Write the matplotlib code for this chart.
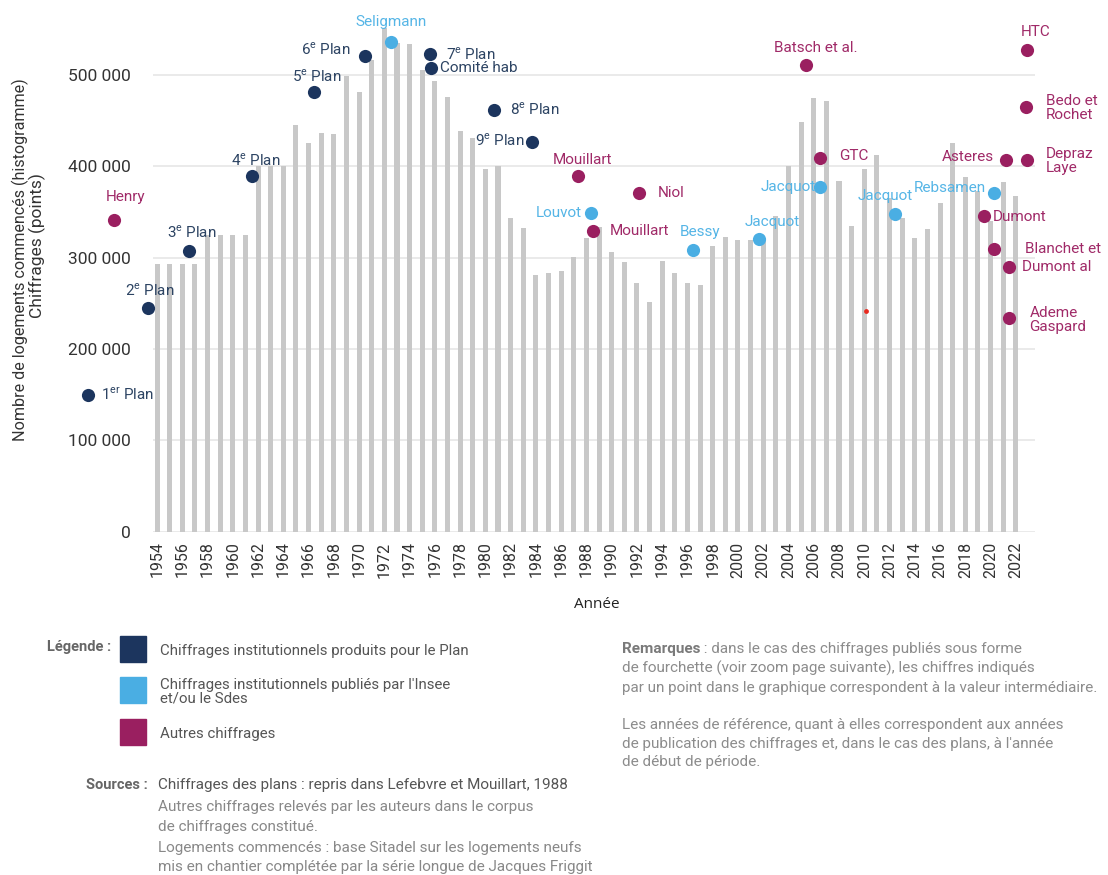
import numpy as np
import matplotlib
matplotlib.use("Agg")
import matplotlib.pyplot as plt
from matplotlib.patches import Rectangle

plt.rcParams['font.family'] = ['Roboto', 'DejaVu Sans']
plt.rcParams['mathtext.fontset'] = 'custom'
plt.rcParams['mathtext.rm'] = 'Roboto'

# logements commences (histogramme), 1954-2022
years = list(range(1954, 2023))
starts = [293000, 293000, 293000, 293000, 325000, 325000, 325000, 325000,
          400000, 400000, 400000, 445000, 426000, 437000, 435000, 499000,
          481000, 516000, 551000, 535000, 534000, 506000, 493000, 476000,
          439000, 431000, 397000, 400000, 343000, 332000, 281000, 283000,
          285000, 301000, 321000, 334000, 306000, 295000, 272000, 252000,
          296000, 283000, 272000, 270000, 313000, 323000, 319000, 319000,
          318000, 346000, 400000, 448000, 475000, 471000, 384000, 335000,
          397000, 412000, 365000, 343000, 321000, 331000, 360000, 426000,
          388000, 373000, 340000, 383000, 368000]

# chiffrages institutionnels produits pour le Plan
plan_years = [1948.5, 1953.3, 1956.5, 1961.5, 1966.4, 1970.5, 1975.6, 1975.7, 1980.7, 1983.7]
plan_values = [150000, 245000, 307000, 389000, 481000, 521000, 523000, 508000, 462000, 427000]
plan_labels = ["1$^{\\mathregular{er}}$ Plan", "2$^{\\mathregular{e}}$ Plan", "3$^{\\mathregular{e}}$ Plan",
               "4$^{\\mathregular{e}}$ Plan", "5$^{\\mathregular{e}}$ Plan", "6$^{\\mathregular{e}}$ Plan",
               "7$^{\\mathregular{e}}$ Plan", "Comité hab", "8$^{\\mathregular{e}}$ Plan",
               "9$^{\\mathregular{e}}$ Plan"]

# chiffrages institutionnels Insee / Sdes
insee_years = [1972.5, 1988.4, 1996.4, 2001.7, 2006.5, 2012.4, 2020.3]
insee_values = [536000, 349000, 308000, 320000, 377000, 348000, 371000]
insee_labels = ["Seligmann", "Louvot", "Bessy", "Jacquot", "Jacquot", "Jacquot", "Rebsamen"]

# autres chiffrages
autres_years = [1950.6, 1987.3, 1988.5, 1992.2, 2005.4, 2006.5, 2021.2, 2022.9, 2022.9,
                2022.8, 2019.5, 2020.3, 2021.5, 2021.5]
autres_values = [341000, 389000, 329000, 371000, 511000, 409000, 407000, 407000, 527000,
                 465000, 346000, 309000, 290000, 234000]
autres_labels = ["Henry", "Mouillart", "Mouillart", "Niol", "Batsch et al.", "GTC", "Asteres",
                 "Depraz\nLaye", "HTC", "Bedo et\nRochet", "Dumont", "Blanchet et",
                 "Dumont al", "Ademe\nGaspard"]

red_year = [2010.1]
red_value = [242000]

# label placement (offset in pixels, alignment)
plan_pos = [(13, 0, 'left'), (2, 18, 'center'), (3, 19, 'center'), (4, 16, 'center'),
            (3, 16, 'center'), (-15, 7, 'right'), (16, 0, 'left'), (9, 0, 'left'),
            (16, 0, 'left'), (-7, 1, 'right')]
insee_pos = [(0, 20, 'center'), (-10, 0, 'right'), (8, 18, 'center'), (13, 17, 'center'),
             (-4, 0, 'right'), (-9, 18, 'center'), (-8, 5, 'right')]
autres_pos = [(11, 23, 'center'), (5, 16, 'center'), (17, 0, 'left'), (18, 0, 'left'),
              (10, 17, 'center'), (19, 2, 'left'), (-12, 3, 'right'), (19, -1, 'left'),
              (8, 18, 'center'), (20, -1, 'left'), (9, -1, 'left'), (31, 0, 'left'),
              (13, 0, 'left'), (20, -2, 'left')]

navy = '#1c355e'
blue = '#4aaee3'
purple = '#9a1f60'
bar_grey = '#c8c8c8'

fig = plt.figure(figsize=(11.08, 8.75), dpi=100)
ax = fig.add_axes([153/1108, 1 - 531.7/875, 882/1108, 531.7/875])

ax.bar(years, starts, width=0.4, color=bar_grey, zorder=2)

ax.set_xlim(1953.68, 2023.52)
ax.set_ylim(0, 582100)
ax.set_yticks(range(0, 500001, 100000))
ax.set_yticklabels([f"{v:,}".replace(",", " ") for v in range(0, 500001, 100000)])
ax.set_xticks(range(1954, 2023, 2))
ax.set_xticklabels([str(y) for y in range(1954, 2023, 2)], rotation=90)
ax.tick_params(axis='y', length=0, pad=16, labelsize=12.5, labelcolor='#333333')
ax.tick_params(axis='x', length=0, pad=7, labelsize=11.5, labelcolor='#333333')
ax.grid(axis='y', color='#e6e6e6', lw=1.2, zorder=1)
for s in ax.spines.values():
    s.set_visible(False)


def draw_points(xs, vals, labels, pos, col, tcol):
    ax.scatter(xs, vals, s=90, color=col, zorder=4, clip_on=False, linewidths=0)
    for x, v, lab, (dx, dy, ha) in zip(xs, vals, labels, pos):
        ax.annotate(lab, (x, v), xytext=(dx*0.72, dy*0.72), textcoords='offset points',
                    ha=ha, va='center', color=tcol, fontsize=11, linespacing=1.0,
                    annotation_clip=False, zorder=5)


draw_points(plan_years, plan_values, plan_labels, plan_pos, navy, '#2d4463')
draw_points(insee_years, insee_values, insee_labels, insee_pos, blue, '#55b5e6')
draw_points(autres_years, autres_values, autres_labels, autres_pos, purple, '#a02a68')
ax.scatter(red_year, red_value, s=12, color='#e8281e', zorder=4, linewidths=0)

# axis titles
fig.text(20/1108, 1 - 260/875, "Nombre de logements commencés (histogramme)", rotation=90,
         ha='center', va='center', fontsize=11.6, color='#333333')
fig.text(37/1108, 1 - 246/875, "Chiffrages (points)", rotation=90,
         ha='center', va='center', fontsize=12.5, color='#333333')
fig.text(597/1108, 1 - 604/875, "Année", ha='center', va='center', fontsize=11,
         color='#222222', family=['Open Sans', 'DejaVu Sans'])


# legende
def px(x, y):
    return x/1108, 1 - y/875


fig.text(*px(111, 647), "Légende :", ha='right', va='center', fontsize=10.5,
         fontweight='bold', color='#666666')
leg_items = ["Chiffrages institutionnels produits pour le Plan",
             "Chiffrages institutionnels publiés par l'Insee\net/ou le Sdes",
             "Autres chiffrages"]
leg_cols = [navy, blue, purple]
leg_y = [649, 690, 732]
for lab, c, yy in zip(leg_items, leg_cols, leg_y):
    fig.patches.append(Rectangle(px(120, yy + 13), 26/1108, 26/875, color=c,
                                 transform=fig.transFigure, figure=fig))
    fig.text(*px(160, yy + 2), lab, ha='left', va='center', fontsize=10.8,
             color='#555555', linespacing=0.95)

fig.text(*px(148, 785), "Sources :", ha='right', va='center', fontsize=10.5,
         fontweight='bold', color='#666666')
fig.text(*px(158, 785), "Chiffrages des plans : repris dans Lefebvre et Mouillart, 1988",
         ha='left', va='center', fontsize=11, color='#555555')
src_lines = ["Autres chiffrages relevés par les auteurs dans le corpus",
             "de chiffrages constitué.",
             "Logements commencés : base Sitadel sur les logements neufs",
             "mis en chantier complétée par la série longue de Jacques Friggit"]
for lab, yy in zip(src_lines, [807, 827, 848, 867]):
    fig.text(*px(158, yy), lab, ha='left', va='center', fontsize=11, color='#888888')

# remarques
t = fig.text(*px(622, 649), "Remarques", ha='left', va='center', fontsize=11,
             fontweight='bold', color='#7a7a7a')
fig.canvas.draw()
bb = t.get_window_extent()
fig.text(bb.x1/1108, 1 - 649/875, " : dans le cas des chiffrages publiés sous forme",
         ha='left', va='center', fontsize=11, color='#8c8c8c')
rem_lines = ["de fourchette (voir zoom page suivante), les chiffres indiqués",
             "par un point dans le graphique correspondent à la valeur intermédiaire.",
             "Les années de référence, quant à elles correspondent aux années",
             "de publication des chiffrages et, dans le cas des plans, à l'année",
             "de début de période."]
for lab, yy in zip(rem_lines, [668, 688, 725, 744, 762]):
    fig.text(*px(622, yy), lab, ha='left', va='center', fontsize=11, color='#8c8c8c')

fig.savefig("out.png", dpi=100)
